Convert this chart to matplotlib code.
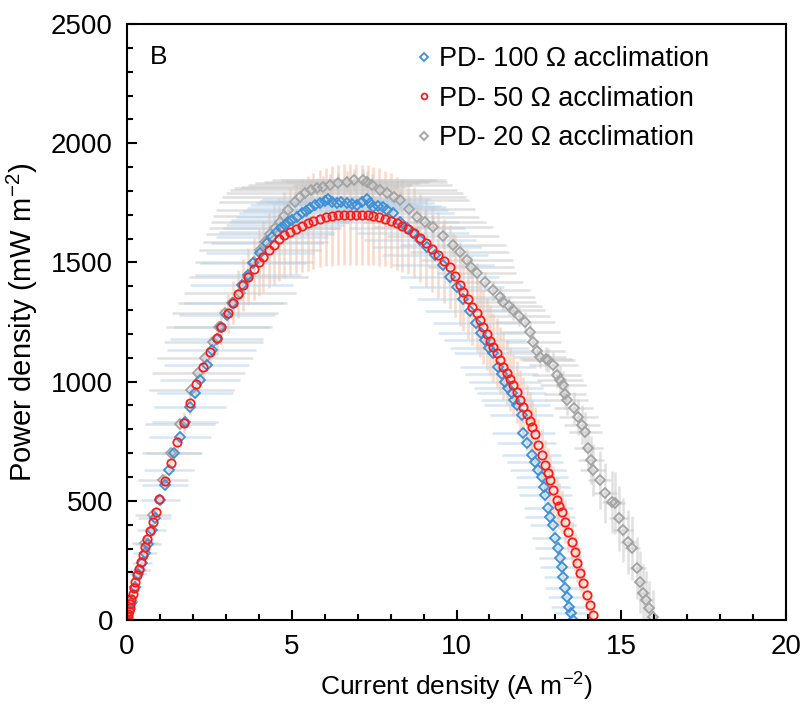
import numpy as np
import matplotlib
matplotlib.use("Agg")
import matplotlib.pyplot as plt
from matplotlib.ticker import MultipleLocator

plt.rcParams['font.family'] = ['Liberation Sans', 'DejaVu Sans']
plt.rcParams['mathtext.fontset'] = 'custom'
plt.rcParams['mathtext.rm'] = 'Liberation Sans'
plt.rcParams['mathtext.it'] = 'Liberation Sans'

# PD- 100 ohm acclimation
blue_x = [0.00, 0.12, 0.25, 0.35, 0.45, 0.55, 0.65, 0.75, 0.85, 1.00,
          1.15, 1.28, 1.43, 1.61, 1.76, 1.91, 2.06, 2.22, 2.42, 2.57,
          2.72, 2.87, 3.03, 3.23, 3.48, 3.68, 3.83, 4.04, 4.24, 4.40,
          4.54, 4.68, 4.80, 4.90, 5.00, 5.15, 5.30, 5.42, 5.55, 5.70,
          5.86, 6.00, 6.11, 6.22, 6.36, 6.50, 6.67, 6.82, 6.97, 7.12,
          7.27, 7.37, 7.47, 7.62, 7.78, 7.88, 8.08, 8.29, 8.50, 8.69,
          8.90, 9.10, 9.35, 9.60, 9.80, 10.00, 10.20, 10.40, 10.60, 10.75,
          10.86, 11.00, 11.12, 11.27, 11.37, 11.47, 11.57, 11.67, 11.75, 11.83,
          11.98, 12.03, 12.13, 12.28, 12.38, 12.48, 12.59, 12.64, 12.69, 12.79,
          12.84, 12.94, 12.99, 13.09, 13.14, 13.19, 13.24, 13.29, 13.34, 13.42,
          13.46, 13.52]
blue_y = [0, 70, 140, 192, 238, 280, 318, 378, 427, 503,
          566, 629, 699, 766, 830, 895, 951, 1007, 1070, 1133,
          1180, 1230, 1279, 1328, 1405, 1447, 1496, 1540, 1580, 1607,
          1629, 1645, 1657, 1668, 1678, 1692, 1706, 1716, 1727, 1740,
          1750, 1758, 1765, 1752, 1748, 1755, 1750, 1745, 1741, 1755,
          1765, 1750, 1734, 1738, 1734, 1720, 1706, 1671, 1645, 1622,
          1595, 1566, 1530, 1490, 1440, 1395, 1345, 1295, 1245, 1205,
          1174, 1140, 1119, 1063, 1030, 1000, 975, 951, 925, 902,
          860, 783, 741, 692, 664, 629, 601, 559, 524, 469,
          433, 398, 343, 301, 259, 224, 182, 133, 98, 56,
          28, 0]
blue_xerr = [0.0, 0.1, 0.2, 0.25, 0.3, 0.35, 0.4, 0.45, 0.5, 0.6,
             0.7, 0.75, 0.85, 0.95, 1.0, 1.1, 1.15, 1.2, 1.3, 1.35,
             1.4, 1.45, 1.45, 1.5, 1.55, 1.6, 1.6, 1.65, 1.7, 1.7,
             1.75, 1.75, 1.8, 1.8, 1.85, 1.85, 1.9, 1.9, 1.9, 1.95,
             1.95, 2.0, 2.0, 2.0, 2.0, 2.0, 2.0, 2.0, 2.0, 2.0,
             1.95, 1.95, 1.9, 1.9, 1.9, 1.85, 1.85, 1.8, 1.75, 1.7,
             1.7, 1.65, 1.6, 1.55, 1.5, 1.45, 1.4, 1.35, 1.3, 1.3,
             1.25, 1.2, 1.2, 1.15, 1.1, 1.1, 1.05, 1.05, 1.0, 1.0,
             0.95, 0.95, 0.9, 0.9, 0.85, 0.85, 0.8, 0.8, 0.8, 0.75,
             0.75, 0.7, 0.7, 0.7, 0.65, 0.65, 0.6, 0.6, 0.55, 0.55,
             0.5, 0.5]
blue_yerr = [0, 5, 8, 10, 10, 12, 12, 15, 15, 15,
             18, 18, 18, 20, 20, 20, 20, 22, 22, 22,
             22, 22, 25, 25, 25, 25, 25, 25, 25, 25,
             25, 25, 25, 25, 25, 25, 25, 25, 25, 25,
             25, 25, 25, 25, 25, 25, 25, 25, 25, 25,
             25, 25, 25, 25, 25, 25, 25, 25, 25, 25,
             25, 25, 25, 25, 25, 25, 25, 25, 25, 25,
             25, 25, 25, 25, 25, 25, 25, 25, 25, 25,
             30, 30, 30, 30, 35, 35, 35, 35, 40, 40,
             40, 40, 40, 40, 40, 40, 40, 40, 40, 40,
             35, 30]

# PD- 50 ohm acclimation
red_x = [0.00, 0.02, 0.04, 0.06, 0.08, 0.11, 0.14, 0.18, 0.22, 0.26,
         0.31, 0.36, 0.42, 0.48, 0.55, 0.62, 0.70, 0.78, 0.87, 0.98,
         1.15, 1.33, 1.53, 1.72, 1.91, 2.11, 2.30, 2.52, 2.72, 2.87,
         3.06, 3.21, 3.36, 3.53, 3.68, 3.85, 4.00, 4.14, 4.30, 4.46,
         4.62, 4.78, 4.95, 5.12, 5.30, 5.48, 5.66, 5.86, 6.04, 6.22,
         6.40, 6.58, 6.76, 6.94, 7.12, 7.30, 7.47, 7.64, 7.82, 8.00,
         8.18, 8.36, 8.54, 8.72, 8.90, 9.08, 9.26, 9.44, 9.62, 9.80,
         9.95, 10.10, 10.21, 10.35, 10.48, 10.61, 10.72, 10.81, 10.92, 11.02,
         11.12, 11.22, 11.32, 11.42, 11.52, 11.62, 11.72, 11.83, 11.93, 12.03,
         12.13, 12.23, 12.30, 12.38, 12.48, 12.59, 12.69, 12.77, 12.84, 12.94,
         13.04, 13.12, 13.19, 13.29, 13.39, 13.49, 13.58, 13.65, 13.75, 13.83,
         13.95, 14.05, 14.15]
red_y = [0, 12, 26, 38, 50, 68, 88, 110, 135, 160,
         188, 215, 245, 272, 305, 340, 375, 410, 455, 508,
         582, 660, 745, 828, 909, 989, 1060, 1126, 1181, 1230,
         1286, 1331, 1367, 1405, 1440, 1472, 1500, 1524, 1552, 1575,
         1597, 1614, 1629, 1641, 1654, 1664, 1674, 1684, 1691, 1696,
         1699, 1701, 1701, 1701, 1700, 1698, 1695, 1690, 1683, 1675,
         1665, 1654, 1641, 1625, 1604, 1580, 1556, 1532, 1506, 1480,
         1443, 1405, 1377, 1345, 1315, 1286, 1258, 1230, 1200, 1172,
         1145, 1120, 1090, 1062, 1038, 1012, 985, 955, 925, 895,
         865, 835, 808, 780, 734, 692, 650, 618, 587, 545,
         503, 478, 454, 413, 370, 328, 287, 238, 196, 154,
         105, 63, 21]
red_yerr = [0, 2, 3, 4, 5, 6, 7, 8, 9, 10,
            11, 12, 13, 14, 15, 16, 18, 20, 22, 25,
            30, 35, 40, 45, 50, 55, 60, 65, 70, 75,
            80, 90, 100, 110, 120, 130, 140, 150, 160, 170,
            175, 180, 185, 190, 195, 200, 200, 205, 205, 210,
            210, 210, 210, 210, 210, 210, 205, 205, 200, 200,
            195, 195, 190, 190, 185, 185, 180, 180, 175, 175,
            170, 170, 165, 165, 160, 160, 155, 155, 150, 150,
            145, 145, 140, 140, 135, 135, 130, 130, 125, 125,
            120, 120, 115, 115, 110, 110, 105, 105, 100, 100,
            95, 95, 90, 90, 85, 85, 80, 80, 75, 70,
            65, 60, 55]

# PD- 20 ohm acclimation
gray_x = [0.00, 0.15, 0.39, 0.55, 0.80, 1.10, 1.35, 1.61, 1.96, 2.17,
          2.37, 2.62, 2.80, 2.97, 3.20, 3.43, 3.68, 3.86, 4.04, 4.20,
          4.34, 4.50, 4.64, 4.77, 4.90, 5.10, 5.25, 5.40, 5.58, 5.76,
          5.96, 6.16, 6.40, 6.67, 6.90, 7.17, 7.27, 7.45, 7.68, 7.90,
          8.10, 8.29, 8.55, 8.79, 9.05, 9.30, 9.60, 9.90, 10.10, 10.31,
          10.45, 10.61, 10.86, 11.12, 11.32, 11.42, 11.58, 11.72, 11.90, 12.08,
          12.23, 12.33, 12.43, 12.53, 12.70, 12.79, 12.94, 13.04, 13.14, 13.24,
          13.29, 13.34, 13.55, 13.70, 13.80, 13.90, 14.00, 14.08, 14.15, 14.35,
          14.51, 14.71, 14.81, 14.94, 15.06, 15.21, 15.32, 15.49, 15.57, 15.67,
          15.75, 15.85, 15.97]
gray_y = [0, 75, 210, 322, 440, 587, 700, 822, 966, 1035,
          1098, 1168, 1230, 1286, 1330, 1370, 1440, 1500, 1552, 1585,
          1618, 1645, 1671, 1695, 1720, 1755, 1773, 1790, 1802, 1811,
          1818, 1825, 1832, 1839, 1846, 1846, 1839, 1825, 1804, 1790,
          1776, 1762, 1725, 1692, 1671, 1650, 1610, 1573, 1542, 1510,
          1480, 1454, 1420, 1384, 1356, 1335, 1318, 1300, 1275, 1251,
          1209, 1168, 1130, 1104, 1095, 1091, 1070, 1028, 1005, 984,
          950, 923, 888, 853, 820, 788, 720, 671, 629, 587,
          534, 496, 489, 426, 378, 328, 301, 217, 161, 112,
          84, 49, 14]
gray_xerr = [0.0, 0.1, 0.3, 0.4, 0.55, 0.75, 0.9, 1.05, 1.3, 1.4,
             1.45, 1.5, 1.6, 1.6, 1.65, 1.7, 1.8, 1.8, 1.85, 1.9,
             1.95, 2.0, 2.1, 2.15, 2.2, 2.3, 2.35, 2.4, 2.45, 2.5,
             2.5, 2.5, 2.5, 2.5, 2.5, 2.5, 2.45, 2.4, 2.35, 2.3,
             2.2, 2.1, 2.0, 1.9, 1.85, 1.8, 1.7, 1.6, 1.5, 1.4,
             1.3, 1.2, 1.15, 1.1, 1.05, 1.0, 1.0, 0.95, 0.95, 0.9,
             0.9, 0.85, 0.85, 0.8, 0.8, 0.8, 0.75, 0.75, 0.7, 0.7,
             0.65, 0.65, 0.6, 0.6, 0.55, 0.5, 0.45, 0.4, 0.4, 0.35,
             0.35, 0.3, 0.3, 0.3, 0.3, 0.25, 0.25, 0.25, 0.2, 0.2,
             0.2, 0.15, 0.1]
gray_yerr = [0, 5, 8, 10, 12, 15, 15, 18, 20, 20,
             22, 22, 25, 25, 28, 30, 30, 32, 35, 35,
             38, 38, 40, 40, 40, 42, 42, 45, 45, 45,
             45, 45, 45, 45, 45, 45, 45, 45, 48, 48,
             50, 50, 50, 50, 50, 50, 50, 50, 45, 45,
             45, 45, 40, 40, 40, 40, 40, 40, 40, 40,
             40, 40, 45, 45, 50, 50, 55, 55, 60, 60,
             65, 65, 70, 75, 80, 85, 90, 100, 110, 120,
             125, 130, 130, 135, 135, 135, 135, 130, 130, 125,
             120, 115, 110]

fig = plt.figure(figsize=(8.03, 7.07), dpi=100)
ax = fig.add_axes([0.158, 0.123, 0.821, 0.843])

# error bars (light, drawn under the markers)
ax.errorbar(red_x, red_y, yerr=red_yerr, fmt='none', ecolor='#f6b48e',
            elinewidth=1.8, alpha=0.5, capsize=0, zorder=1)
ax.errorbar(blue_x, blue_y, xerr=blue_xerr, yerr=blue_yerr, fmt='none',
            ecolor='#bcd6ee', elinewidth=1.8, alpha=0.6, capsize=0, zorder=1.1)
ax.errorbar(gray_x, gray_y, xerr=gray_xerr, yerr=gray_yerr, fmt='none',
            ecolor='#c8c8c8', elinewidth=1.8, alpha=0.55, capsize=0, zorder=1.2)

ax.plot(gray_x, gray_y, linestyle='none', marker='D', markersize=5.2,
        markerfacecolor='none', markeredgecolor='#a3a3a3', markeredgewidth=1.3,
        zorder=2, label='PD- 20 \u03a9 acclimation')
ax.plot(blue_x, blue_y, linestyle='none', marker='D', markersize=5.2,
        markerfacecolor='none', markeredgecolor='#3f8fd6', markeredgewidth=1.3,
        zorder=2.1, label='PD- 100 \u03a9 acclimation')
ax.plot(red_x, red_y, linestyle='none', marker='o', markersize=6,
        markerfacecolor='none', markeredgecolor='#ff1a1a', markeredgewidth=1.3,
        zorder=2.2, label='PD- 50 \u03a9 acclimation')

ax.set_xlim(0, 20)
ax.set_ylim(0, 2500)
ax.xaxis.set_major_locator(MultipleLocator(5))
ax.xaxis.set_minor_locator(MultipleLocator(1))
ax.yaxis.set_major_locator(MultipleLocator(500))
ax.yaxis.set_minor_locator(MultipleLocator(100))
ax.tick_params(which='both', direction='in', top=False, right=False,
               labelsize=20, width=1.5, pad=10)
ax.tick_params(which='major', length=7)
ax.tick_params(which='minor', length=4)
for s in ax.spines.values():
    s.set_linewidth(1.5)

ax.set_xlabel('Current density (A m$^{-2}$)', fontsize=19, labelpad=8)
ax.set_ylabel('Power density (mW m$^{-2}$)', fontsize=21, labelpad=8)

ax.text(0.035, 0.945, 'B', transform=ax.transAxes, fontsize=19,
        ha='left', va='center')

handles, labels = ax.get_legend_handles_labels()
order = [1, 2, 0]
ax.legend([handles[i] for i in order], [labels[i] for i in order],
          loc='upper left', bbox_to_anchor=(0.416, 0.99), frameon=False,
          fontsize=19.5, handlelength=0.5, handletextpad=0.3,
          labelspacing=0.5, markerscale=0.7, borderaxespad=0.2)

fig.savefig('out.png', dpi=100)
